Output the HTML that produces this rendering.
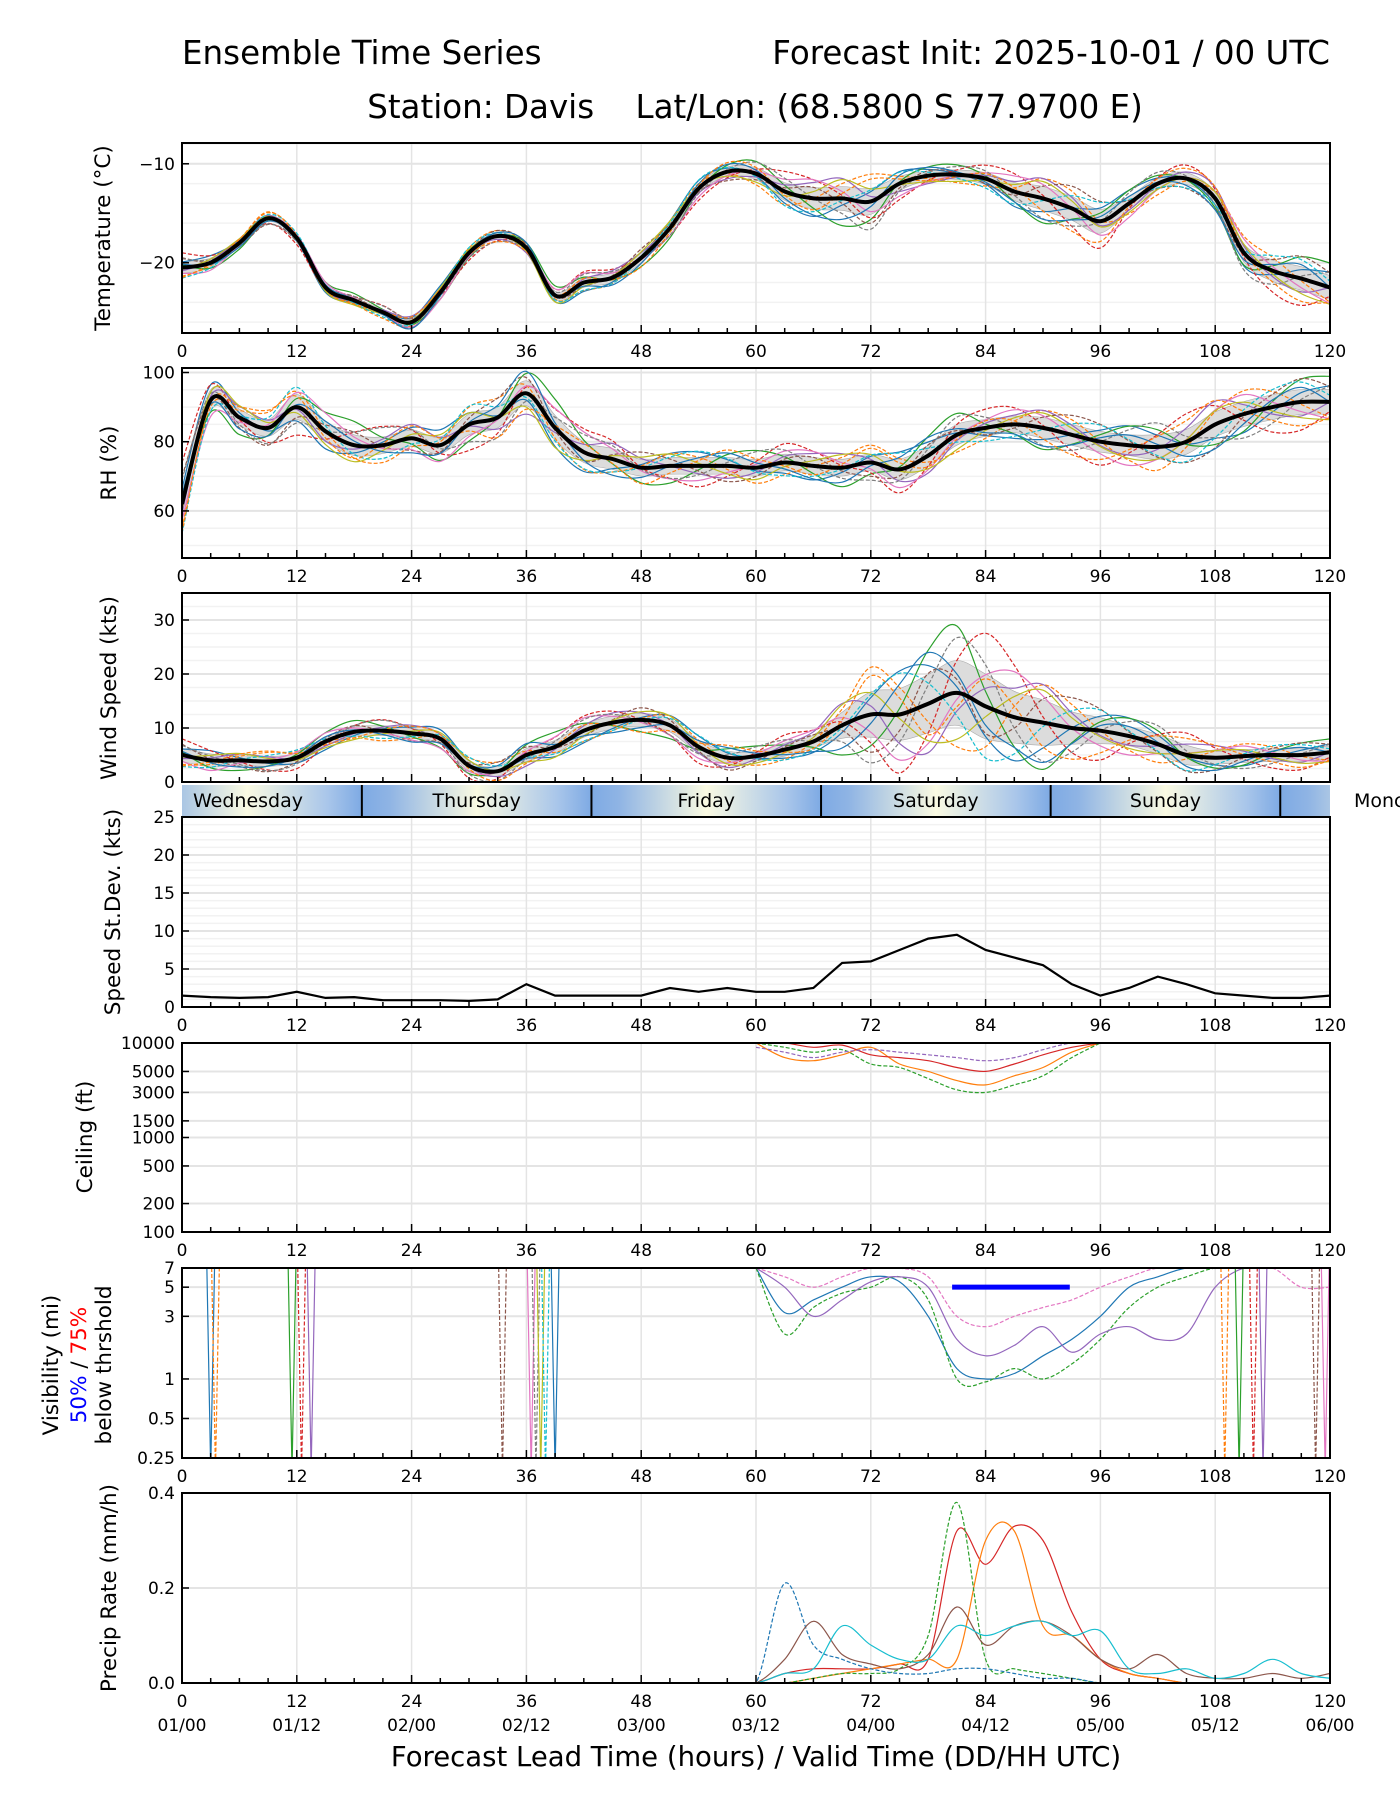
<!DOCTYPE html>
<html><head><meta charset="utf-8">
<style>
html,body{margin:0;padding:0;background:#fff;}
svg{display:block;font-family:"DejaVu Sans","Liberation Sans",sans-serif;}
</style></head>
<body>
<svg id="chart" width="1400" height="1800" viewBox="0 0 1400 1800" xmlns="http://www.w3.org/2000/svg">
<text x="182" y="64" font-size="32.5">Ensemble Time Series</text>
<text x="1330" y="64" font-size="32.5" text-anchor="end">Forecast Init: 2025-10-01 / 00 UTC</text>
<text x="755" y="118" font-size="32.5" text-anchor="middle">Station: Davis &#160;&#160; Lat/Lon: (68.5800 S 77.9700 E)</text>
<text x="756" y="1766" font-size="27.5" text-anchor="middle">Forecast Lead Time (hours) / Valid Time (DD/HH UTC)</text>
<g id="layer"></g>
</svg>
<script>
// ---- data (3-hourly, lead hours 0..120) ----
const hours = [0,3,6,9,12,15,18,21,24,27,30,33,36,39,42,45,48,51,54,57,60,63,66,69,72,75,78,81,84,87,90,93,96,99,102,105,108,111,114,117,120];
const tempMean = [-20.5,-20,-18,-15.5,-17.5,-22.5,-23.8,-25,-26,-23,-19,-17.3,-18.5,-23.3,-22,-21.5,-19.5,-16.5,-12.5,-10.8,-11,-12.8,-13.5,-13.5,-13.8,-12,-11.2,-11.1,-11.5,-12.8,-13.5,-14.5,-15.8,-14,-12,-11.5,-13.5,-19,-20.8,-21.6,-22.5];
const tempSpread = [1,0.8,0.5,0.5,0.5,0.5,0.5,0.5,0.6,0.6,0.5,0.5,0.5,0.7,0.8,0.8,0.8,0.8,0.8,0.8,1,1.5,1.8,2,2.2,1.2,0.8,0.8,1,1.5,2,2,2,1.2,1,1,1,1.5,1.8,2,2];
const rhMean = [62,92,87,84,90,83,79,79,81,79,85,87,94,84,77,75,72.5,73,73,73,72.5,74,73,72.5,74,72,76,82,84,85,84,82,80,79,78.5,80,85,88,90,91.5,91.5];
const rhSpread = [8,5,4,4,6,5,5,4,4,4,5,5,6,6,5,5,4,4,4,4,4,4,4,4,4,5,5,5,4,4,5,5,5,5,6,6,6,6,6,6,6];
const windMean = [5,4,4,3.8,4.5,7.5,9.3,9.5,9,8,3,2,5,6.5,9.5,11,11.5,10.5,6.5,4.5,4.8,6,7.5,10.5,12.5,12.5,14.5,16.5,14,12,11,10,9.5,8.5,7,5,4.5,4.8,5,5,5.5];
const windSpread = [2,2,1.5,1.5,1.5,1.5,1.5,1.5,1.5,1.5,1.5,1.5,2,2,2,2,2,2,2,2,1.5,2,2,4,7,8,9,10,10,8,7,5,4,3,3,3,2,2,2,2,2];
const sdValues = [1.5,1.3,1.2,1.3,2,1.2,1.3,0.9,0.9,0.9,0.8,1,3,1.5,1.5,1.5,1.5,2.5,2,2.5,2,2,2.5,5.8,6,7.5,9,9.5,7.5,6.5,5.5,3,1.5,2.5,4,3,1.8,1.5,1.2,1.2,1.5];
const off1 = [0.5,0.8,0.3,-0.2,-0.6,-0.9,-0.4,0.2,0.7,1,0.6,0.1,-0.3,-0.8,-1,-0.5,0.2,0.8,0.9,0.4,-0.2,-0.7,-0.9,-0.3,0.4,0.9,0.7,0.1,-0.5,-0.9,-0.6,0,0.6,1,0.5,-0.1,-0.6,-0.8,-0.2,0.4,0.7];
const off2 = [-0.7,-0.3,0.4,0.9,0.6,0,-0.6,-1,-0.5,0.2,0.8,0.9,0.3,-0.4,-0.8,-0.6,0.1,0.7,0.5,-0.2,-0.9,-0.7,0,0.6,1,0.5,-0.3,-0.8,-0.6,0.2,0.8,0.7,0,-0.7,-0.9,-0.2,0.5,0.9,0.6,-0.1,-0.6];
const off3 = [0.2,-0.5,-0.9,-0.4,0.3,0.8,1,0.4,-0.3,-0.8,-0.7,0,0.7,1,0.5,-0.2,-0.8,-0.9,-0.2,0.6,0.9,0.3,-0.4,-1,-0.6,0.1,0.8,0.9,0.2,-0.5,-0.9,-0.4,0.3,0.8,0.6,-0.1,-0.7,-0.6,0.2,0.8,0.9];
const off4 = [1,0.6,-0.1,-0.7,-0.9,-0.3,0.5,0.9,0.4,-0.4,-1,-0.6,0.2,0.6,0.9,0.7,0,-0.6,-1,-0.5,0.3,0.9,0.7,0.1,-0.5,-0.9,-0.4,0.4,0.9,0.8,0.1,-0.6,-0.9,-0.3,0.4,0.9,0.6,-0.2,-0.8,-0.9,-0.3];
const off5 = [-0.3,0.2,0.7,0.5,-0.1,-0.5,-0.2,0.4,0.9,0.5,-0.1,-0.6,-0.9,-0.2,0.4,0.8,0.6,0,-0.5,-0.8,-0.3,0.4,0.8,0.9,0.2,-0.6,-0.9,-0.3,0.3,0.6,0.9,0.5,-0.2,-0.5,-0.1,0.6,1,0.4,-0.3,-0.6,0];
const off6 = [0.8,0.1,-0.6,-1,-0.4,0.3,0.6,-0.1,-0.7,-0.4,0.3,0.9,0.6,-0.1,-0.4,0.2,0.9,0.4,-0.3,-0.9,-0.5,0.2,0.5,-0.2,-0.8,-0.3,0.5,0.2,-0.4,-0.2,0.5,0.9,0.8,0.2,-0.4,-0.8,-0.9,-0.1,0.5,0.9,0.6];
// ceiling members (hours 60..96 step 3)
const ceilHours = [60,63,66,69,72,75,78,81,84,87,90,93,96];
const ceilA = [10000,7000,6500,7500,9000,6000,5000,4000,3600,4500,5500,8000,10000];
const ceilB = [10000,9000,8000,8500,6000,5500,4200,3200,3000,3600,4500,7000,10000];
const ceilC = [10000,10000,9000,9500,7500,7000,6500,5500,5000,6000,7500,9000,10000];
const ceilD = [9000,8000,7000,8000,8500,8000,7500,7000,6500,7000,8500,10000,10000];
// visibility members (hours 60..120 step 3)
const visHours = [60,63,66,69,72,75,78,81,84,87,90,93,96,99,102,105,108,111,114,117,120];
const visA = [7,3.2,4,5,6,5.5,3,1.2,1,1.1,1.5,2,3,5,6,7,7,7,7,7,7];
const visB = [7,2.2,3.5,4.5,5,6,4,1,0.95,1.2,1,1.3,2,3.5,5,6,7,7,7,7,7];
const visC = [7,5,3,4,5.5,6,5,2,1.5,1.8,2.5,1.6,2.2,2.5,2,2.2,5,7,7,7,7];
const visD = [7,6,5,6,7,7,6,3,2.5,3,3.5,4,5,6,7,7,7,7,7,5,5];
const visSpikes = [3,3.5,11.5,12.5,13.5,33.5,36.5,37,37.5,38,39,109,110.5,112,113,118.5,119.5];
const vis50Start = 80.5;
const vis50End = 92.8;
// precip members (hours 57..120 step 3)
const prHours = [57,60,63,66,69,72,75,78,81,84,87,90,93,96,99,102,105,108,111,114,117,120];
const prA = [0,0,0.02,0.03,0.03,0.03,0.04,0.05,0.32,0.25,0.33,0.3,0.15,0.05,0.02,0.01,0,0,0,0,0,0];
const prB = [0,0,0,0.01,0.02,0.03,0.04,0.05,0.05,0.3,0.32,0.12,0.1,0.05,0.02,0.01,0,0,0,0,0,0];
const prC = [0,0,0,0.01,0.02,0.02,0.03,0.1,0.38,0.05,0.03,0.02,0.01,0,0,0,0,0,0,0,0,0];
const prD = [0,0,0.21,0.08,0.05,0.03,0.02,0.02,0.03,0.03,0.02,0.01,0.01,0,0,0,0,0,0,0,0,0];
const prE = [0,0,0.05,0.13,0.06,0.04,0.03,0.06,0.16,0.08,0.12,0.13,0.1,0.05,0.03,0.06,0.02,0.01,0.01,0.02,0.01,0.02];
const prF = [0,0,0.02,0.03,0.12,0.08,0.05,0.05,0.12,0.1,0.12,0.13,0.1,0.11,0.03,0.02,0.03,0.01,0.02,0.05,0.02,0.01];
const dayNames = ["Wednesday","Thursday","Friday","Saturday","Sunday","Monday"];
const dayStarts = [-5.2,18.8,42.8,66.8,90.8,114.8];

const NS="http://www.w3.org/2000/svg";
const layer=document.getElementById('layer');
const XL=182, XR=1330;
function X(h){return XL+(h/120)*(XR-XL);}
function mk(tag,attrs,parent){const e=document.createElementNS(NS,tag);for(const k in attrs)e.setAttribute(k,attrs[k]);(parent||layer).appendChild(e);return e;}
const colors=["#1f77b4","#ff7f0e","#2ca02c","#d62728","#9467bd","#8c564b","#e377c2","#7f7f7f","#bcbd22","#17becf","#1f77b4","#ff7f0e"];
const offs=[off1,off2,off3,off4,off5,off6];

function makeY(p){
  if(p.log){const a=Math.log(p.min),b=Math.log(p.max);return v=>p.bot-(Math.log(Math.max(v,p.min*0.5))-a)/(b-a)*(p.bot-p.top);}
  return v=>p.bot-(v-p.min)/(p.max-p.min)*(p.bot-p.top);
}
function axes(p,name){
  const g=mk('g',{});
  
  
  const Y=makeY(p);
  const cid='clip-'+name;
  const cp=mk('clipPath',{id:cid},g);mk('rect',{x:XL,y:p.top,width:XR-XL,height:p.bot-p.top},cp);
  (p.minorGrid||[]).forEach(v=>mk('line',{x1:XL,x2:XR,y1:Y(v),y2:Y(v),stroke:'#f2f2f2','stroke-width':1.5},g));
  for(let h=0;h<=120;h+=12)mk('line',{x1:X(h),x2:X(h),y1:p.top,y2:p.bot,stroke:'#e4e4e4','stroke-width':1.5},g);
  p.ticks.forEach(v=>mk('line',{x1:XL,x2:XR,y1:Y(v),y2:Y(v),stroke:'#e4e4e4','stroke-width':2},g));
  const plot=mk('g',{'clip-path':'url(#'+cid+')'},g);
  for(let h=0;h<=120;h+=3){const len=h%12==0?8:5;mk('line',{x1:X(h),x2:X(h),y1:p.bot,y2:p.bot-len,stroke:'#000','stroke-width':1.5},g);}
  p.ticks.forEach((v,i)=>{mk('line',{x1:XL,x2:XL+7,y1:Y(v),y2:Y(v),stroke:'#000','stroke-width':1.5},g);
    const t=mk('text',{x:XL-7,y:Y(v)+6,'font-size':17,'text-anchor':'end'},g);t.textContent=(p.labels?p.labels[i]:String(v)).replace('-','\u2212');
    
    });
  if(p.xlabels){for(let h=0;h<=120;h+=12){const t=mk('text',{x:X(h),y:p.bot+24,'font-size':17,'text-anchor':'middle'},g);t.textContent=h;
    
    }}
  return {g,plot,Y,frame:()=>mk('rect',{x:XL,y:p.top,width:XR-XL,height:p.bot-p.top,fill:'none',stroke:'#000','stroke-width':2},g)};
}
function path(xs,ys){return xs.map((x,i)=>(i?'L':'M')+x.toFixed(1)+','+ys[i].toFixed(1)).join('');}
function smoothPath(pts){
  let d='M'+pts[0][0].toFixed(1)+','+pts[0][1].toFixed(1);
  for(let i=0;i<pts.length-1;i++){const p0=pts[Math.max(0,i-1)],p1=pts[i],p2=pts[i+1],p3=pts[Math.min(pts.length-1,i+2)];
    d+='C'+(p1[0]+(p2[0]-p0[0])/6).toFixed(1)+','+(p1[1]+(p2[1]-p0[1])/6).toFixed(1)+' '+(p2[0]-(p3[0]-p1[0])/6).toFixed(1)+','+(p2[1]-(p3[1]-p1[1])/6).toFixed(1)+' '+p2[0].toFixed(1)+','+p2[1].toFixed(1);}
  return d;}
function ylabel(txt,cy,name,x){const t=mk('text',{x:0,y:0,'font-size':21.5,'text-anchor':'middle',transform:'translate('+(x||113)+','+cy+') rotate(-90)'});t.textContent=txt;
  
  }

function ensemblePanel(p,name,mean,spread,floor,mult){
  const a=axes(p,name);const Y=a.Y;
  const xs=hours.map(X);
  const hi=mean.map((m,i)=>m+0.6*spread[i]),lo=mean.map((m,i)=>Math.max(floor,m-0.6*spread[i]));
  const band=mk('path',{d:smoothPath(xs.map((x,i)=>[x,Y(hi[i])]))+'L'+smoothPath(xs.map((x,i)=>[x,Y(lo[i])]).reverse()).slice(1)+'Z',fill:'#dcdcdc',stroke:'#aaa','stroke-width':0.6},a.plot);
  
  
  for(let k=0;k<12;k++){const o=offs[k%6],s=k<6?1:-0.85;
    const vals=mean.map((m,i)=>Math.max(floor,m+s*o[i]*spread[i]*mult*(0.7+0.08*(k%4))));
    const ln=mk('path',{d:smoothPath(xs.map((x,i)=>[x,Y(vals[i])])),fill:'none',stroke:colors[k],'stroke-width':1.2,'stroke-dasharray':k%2?'4,2':'none'},a.plot);
    
    }
  const ml=mk('path',{d:smoothPath(xs.map((x,i)=>[x,Y(mean[i])])),fill:'none',stroke:'#000','stroke-width':4},a.plot);
  
  
  a.frame();return a;
}
const range=(a,b,s)=>{const r=[];for(let v=a;v<=b+1e-9;v+=s)r.push(+v.toFixed(3));return r;};

ensemblePanel({top:143,bot:333,min:-27.1,max:-7.9,ticks:[-10,-20],minorGrid:range(-26,-8,2),xlabels:true},'temperature',tempMean,tempSpread,-99,1.6);
ylabel('Temperature (°C)',238,'temperature-y-title',110);
ensemblePanel({top:368,bot:558,min:46.4,max:101.3,ticks:[100,80,60],minorGrid:range(50,100,5),xlabels:true},'rh',rhMean,rhSpread,0,1.6);
ylabel('RH (%)',463,'rh-y-title',116);
ensemblePanel({top:593,bot:782,min:0,max:35,ticks:[0,10,20,30],minorGrid:range(0,35,2.5),xlabels:false},'wind',windMean,windSpread,0,1.6);
ylabel('Wind Speed (kts)',688,'wind-y-title',116);

// day band
(function(){const defs=mk('defs',{});
  const lg=mk('linearGradient',{id:'dayg',x1:0,x2:1,y1:0,y2:0},defs);
  [['0','#7eaae4'],['0.12','#8fb4e4'],['0.5','#fafae2'],['0.85','#a9c6ea'],['1','#7eaae4']].forEach(s=>mk('stop',{offset:s[0],'stop-color':s[1]},lg));
  const cp=mk('clipPath',{id:'bandclip'},defs);mk('rect',{x:XL,y:785,width:XR-XL,height:32},cp);
  const g=mk('g',{'clip-path':'url(#bandclip)'});
  
  
  dayStarts.forEach((s,i)=>{const x0=X(s),x1=X(s+24);
    const r=mk('rect',{x:x0,y:785,width:x1-x0,height:32,fill:'url(#dayg)'},g);
    
    
    if(s>0)mk('line',{x1:x0,x2:x0,y1:785,y2:817,stroke:'#000','stroke-width':2},g);});
  dayStarts.forEach((s,i)=>{let cx=X(s+12);if(i==0)cx=XL+66;
    const last=i==dayNames.length-1;
    const t=mk('text',{x:last?1354:cx,y:807,'font-size':19,'text-anchor':last?'start':'middle'},last?layer:g);t.textContent=last?'Monc':dayNames[i];
    
    });
})();

// StDev
(function(){const p={top:817,bot:1007,min:0,max:25,ticks:[0,5,10,15,20,25],minorGrid:range(1,25,1),xlabels:true};
  const a=axes(p,'speed-stdev');
  const ln=mk('path',{d:path(hours.map(X),sdValues.map(a.Y)),fill:'none',stroke:'#000','stroke-width':2.2},a.plot);
  
  
  a.frame();ylabel('Speed St.Dev. (kts)',912,'stdev-y-title',120);})();

// Ceiling
(function(){const p={top:1043,bot:1232,min:100,max:10000,log:true,ticks:[10000,5000,3000,1500,1000,500,200,100],xlabels:true};
  const a=axes(p,'ceiling');
  [ceilA,ceilB,ceilC,ceilD].forEach((s,k)=>{const ln=mk('path',{d:smoothPath(ceilHours.map((h,i)=>[X(h),a.Y(s[i])])),fill:'none',stroke:colors[k+1],'stroke-width':1.2,'stroke-dasharray':k%2?'4,2':'none'},a.plot);
    
    });
  a.frame();ylabel('Ceiling (ft)',1137,'ceiling-y-title',92);})();

// Visibility
(function(){const p={top:1268,bot:1458,min:0.25,max:7,log:true,ticks:[7,5,3,1,0.5,0.25],xlabels:true};
  const a=axes(p,'visibility');
  [visA,visB,visC,visD].forEach((s,k)=>{const ln=mk('path',{d:smoothPath(visHours.map((h,i)=>[X(h),a.Y(s[i])])),fill:'none',stroke:colors[k*2],'stroke-width':1.2,'stroke-dasharray':k%2?'4,2':'none'},a.plot);
    
    });
  visSpikes.forEach((h,k)=>{const ln=mk('path',{d:'M'+X(h-0.4)+','+a.Y(7)+'L'+X(h)+','+a.Y(0.2)+'L'+X(h+0.4)+','+a.Y(7),fill:'none',stroke:colors[k%10],'stroke-width':1.2,'stroke-dasharray':k%2?'4,2':'none'},a.plot);
    
    });
  const th=mk('line',{x1:X(vis50Start),x2:X(vis50End),y1:a.Y(5),y2:a.Y(5),stroke:'#0000ff','stroke-width':5},a.plot);
  
  
  a.frame();
  const t=mk('text',{x:0,y:0,'font-size':21.5,'text-anchor':'middle',transform:'translate(58,1365) rotate(-90)'});
  t.textContent='Visibility (mi)';
  
  
  const t2=mk('text',{x:0,y:0,'font-size':21.5,'text-anchor':'middle',transform:'translate(86,1365) rotate(-90)'});
  t2.innerHTML='<tspan fill="#0000ff">50%</tspan> / <tspan fill="#ff0000">75%</tspan>';
  
  
  const t3=mk('text',{x:0,y:0,'font-size':21.5,'text-anchor':'middle',transform:'translate(111,1365) rotate(-90)'});
  t3.textContent='below thrshold';
  
  })();

// Precip
(function(){const p={top:1493,bot:1683,min:0,max:0.4,ticks:[0,0.2,0.4],labels:['0.0','0.2','0.4'],xlabels:true};
  const a=axes(p,'precip');
  [prA,prB,prC,prD,prE,prF].forEach((s,k)=>{const c=[3,1,2,0,5,9][k];
    const ln=mk('path',{d:smoothPath(prHours.map((h,i)=>[X(h),a.Y(Math.max(0,s[i]))])),fill:'none',stroke:colors[c],'stroke-width':1.2,'stroke-dasharray':(k==2||k==3)?'4,2':'none'},a.plot);
    
    });
  a.frame();
  const dates=['01/00','01/12','02/00','02/12','03/00','03/12','04/00','04/12','05/00','05/12','06/00'];
  dates.forEach((d,i)=>{const t=mk('text',{x:X(i*12),y:1731,'font-size':17,'text-anchor':'middle'});t.textContent=d;
    
    });
  ylabel('Precip Rate (mm/h)',1588,'precip-y-title',116);})();
</script>
</body></html>
